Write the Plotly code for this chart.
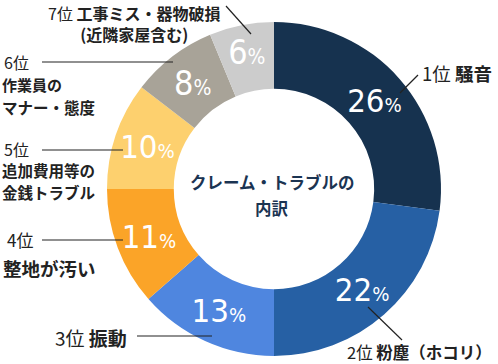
import plotly.graph_objects as go

# ---- data ----
ranks = ["1位", "2位", "3位", "4位", "5位", "6位", "7位"]
categories = ["騒音", "粉塵（ホコリ）", "振動", "整地が汚い", "追加費用等の金銭トラブル",
              "作業員のマナー・態度", "工事ミス・器物破損(近隣家屋含む)"]
values = [26, 22, 13, 11, 10, 8, 6]
colors = ["#16324f", "#2660a4", "#4f86df", "#fba428", "#fdd06e", "#a8a398", "#cccccc"]
center_title = ["クレーム・トラブルの", "内訳"]

W, H = 498, 364
CJK = "Noto Sans CJK JP"
NUM = "DejaVu Sans Condensed, Liberation Sans Narrow, Noto Sans, sans-serif"

def px(x):
    return x / W

def py(y):
    return 1 - y / H

pct_text = [f"{v}<span style='font-size:21px'>%</span>" for v in values]

fig = go.Figure(go.Pie(
    values=values,
    labels=categories,
    text=pct_text,
    texttemplate="%{text}",
    textposition="inside",
    insidetextorientation="horizontal",
    textfont=dict(family=NUM, size=34, color="white"),
    marker=dict(colors=colors, line=dict(width=0)),
    hole=0.6,
    sort=False,
    direction="clockwise",
    rotation=0,
    showlegend=False,
    hoverinfo="label+value",
    domain=dict(x=[px(107), px(441)], y=[py(356), py(22)]),
))

TXT = "#222222"

def ann(x, y, text, size=15, xanchor="left", color=TXT, yanchor="middle", align="left"):
    fig.add_annotation(x=px(x), y=py(y), xref="paper", yref="paper", text=text,
                       showarrow=False, xanchor=xanchor, yanchor=yanchor, align=align,
                       borderpad=0,
                       font=dict(family=CJK, size=size, color=color))

def line(x0, y0, x1, y1):
    fig.add_shape(type="line", xref="paper", yref="paper",
                  x0=px(x0), y0=py(y0), x1=px(x1), y1=py(y1),
                  line=dict(color="#222222", width=1.2))

# center title
ann(272, 182, f"<b>{center_title[0]}</b>", size=16.5, xanchor="center", color="#1b3452")
ann(272, 208, f"<b>{center_title[1]}</b>", size=16.5, xanchor="center", color="#1b3452")

# 1位
ann(421, 73, f"{ranks[0]} <b>{categories[0]}</b>", size=18.5)
line(400, 93, 418, 75)
# 2位
ann(346, 352, f"{ranks[1]} <b>{categories[1]}</b>", size=16.5)
line(368, 307, 402, 340)
# 3位
ann(54, 337, f"{ranks[2]} <b>{categories[2]}</b>", size=19)
line(137, 336, 212, 336)
# 4位
ann(6, 239, f"{ranks[3]}", size=17)
ann(2, 268, f"<b>{categories[3]}</b>", size=18.5)
line(42, 240, 123, 240)
# 5位
ann(3, 149, f"{ranks[4]}", size=16)
ann(1, 170, "<b>追加費用等の</b>", size=15.5)
ann(1, 192, "<b>金銭トラブル</b>", size=15.5)
line(42, 150, 123, 150)
# 6位
ann(3, 62, f"{ranks[5]}", size=16)
ann(1, 84, "<b>作業員の</b>", size=15)
ann(1, 107, "<b>マナー・態度</b>", size=15.5)
line(42, 62, 173, 62)
# 7位
ann(134, 0, f"{ranks[6]} <b>工事ミス・器物破損</b><br><b>(近隣家屋含む)</b>",
    size=16, xanchor="center", yanchor="top", align="center")
line(226, 6, 251, 34)

fig.update_layout(
    width=W, height=H,
    margin=dict(l=0, r=0, t=0, b=0),
    paper_bgcolor="white", plot_bgcolor="white",
)

fig.write_html("out.html", config={"displayModeBar": False},
               post_script="document.body.style.margin='0';document.body.style.overflow='hidden';")
